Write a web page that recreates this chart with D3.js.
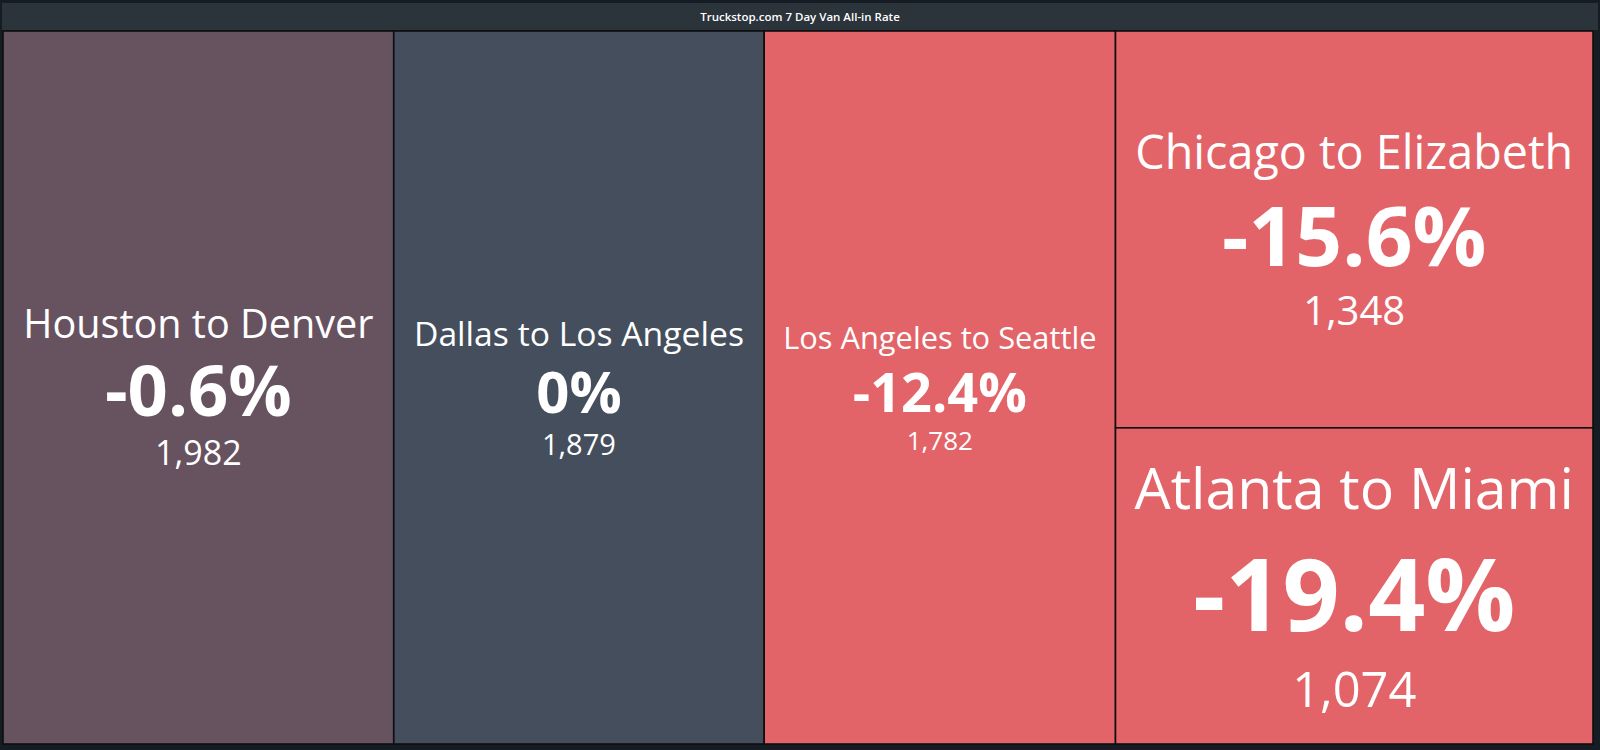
<!DOCTYPE html>
<html>
<head>
<meta charset="utf-8">
<script src="https://cdn.jsdelivr.net/npm/d3@7"></script>
<style>
  html, body { margin: 0; padding: 0; background: #151c23; }
  svg { display: block; }
  text { font-family: "Open Sans", "Noto Sans", sans-serif; }
</style>
</head>
<body>
<svg id="chart" width="1600" height="750"></svg>
<script>
// ---- data ----
const title = "Truckstop.com 7 Day Van All-in Rate";
const routes = ["Houston to Denver", "Dallas to Los Angeles", "Los Angeles to Seattle", "Chicago to Elizabeth", "Atlanta to Miami"];
const changes = [-0.6, 0, -12.4, -15.6, -19.4];   // 7-day change, %
const rates = [1982, 1879, 1782, 1348, 1074];     // all-in rate
const columns = [0, 1, 2, 3, 3];                  // layout column grouping

// ---- style (kept separate from data) ----
// line metrics used for vertical stacking [label, change, rate] in px
const lineSizes = [
  [38.6, 68, 34],
  [36, 56, 29],
  [33, 53, 26],
  [49, 84, 40],
  [61, 107, 52]
];
// rendered font sizes [label, change, rate] in px
const fontSizes = [
  [39.6, 70.5, 34],
  [33.7, 58, 29],
  [30.8, 54, 26],
  [46.7, 82, 40],
  [57.2, 100, 48.8]
];
const W = 1600, H = 750;
const area = {x: 3, y: 31, w: 1590, h: 713};

const svg = d3.select("#chart");
svg.append("rect").attr("width", W).attr("height", H).attr("fill", "#151c23");

// title bar
svg.append("rect").attr("x", 2).attr("y", 3).attr("width", W - 4).attr("height", 27)
  .attr("fill", "#2b333b");
svg.append("text").attr("x", W / 2).attr("y", 20.5).attr("text-anchor", "middle")
  .attr("fill", "#ffffff").attr("font-size", 11.5).attr("font-weight", 600).text(title);

// hierarchy
const colIds = Array.from(new Set(columns));
const rootData = {
  name: "root",
  children: colIds.map(c => {
    const idx = columns.map((cc, i) => cc === c ? i : -1).filter(i => i >= 0);
    if (idx.length === 1) return {i: idx[0], value: rates[idx[0]]};
    return {name: "col" + c, children: idx.map(i => ({i, value: rates[i]}))};
  })
};
const root = d3.hierarchy(rootData).sum(d => d.children ? 0 : d.value);
d3.treemap().tile(d3.treemapSliceDice).size([area.w, area.h]).paddingInner(0)(root);

const color = d3.scaleLinear().domain([0, -2.75]).range(["#444e5c", "#e36468"]).clamp(true)
  .interpolate(d3.interpolateRgb);

const g = svg.append("g").attr("transform", `translate(${area.x},${area.y})`);
const leaves = root.leaves();
const cells = g.selectAll("g.cell").data(leaves).join("g").attr("class", "cell");

cells.append("rect")
  .attr("x", d => d.x0).attr("y", d => d.y0)
  .attr("width", d => d.x1 - d.x0).attr("height", d => d.y1 - d.y0)
  .attr("fill", d => color(changes[d.data.i]))
  .attr("stroke", "#0e0e10").attr("stroke-width", 1.6);

const fmtRate = d3.format(",");
const capK = 0.714;
cells.each(function(d) {
  const i = d.data.i;
  const [ll, lb, lr] = lineSizes[i];
  const [fl, fb, fr] = fontSizes[i];
  const cx = (d.x0 + d.x1) / 2, cy = (d.y0 + d.y1) / 2;
  const capL = ll * capK, capB = lb * capK, capR = lr * capK;
  const gap1 = 0.76 * ll, gap2 = 0.74 * lr;
  const total = capL + gap1 + capB + gap2 + capR;
  const top = cy - total / 2;
  const bL = top + capL;
  const bB = bL + gap1 + capB;
  const bR = bB + gap2 + capR;
  const sel = d3.select(this);
  sel.append("text").attr("x", cx).attr("y", bL).attr("text-anchor", "middle")
    .attr("fill", "#fff").attr("font-size", fl).text(routes[i]);
  sel.append("text").attr("x", cx).attr("y", bB).attr("text-anchor", "middle")
    .attr("fill", "#fff").attr("font-size", fb).attr("font-weight", 700).text(changes[i] + "%");
  sel.append("text").attr("x", cx).attr("y", bR).attr("text-anchor", "middle")
    .attr("fill", "#fff").attr("font-size", fr).text(fmtRate(rates[i]));
});
</script>
</body>
</html>
